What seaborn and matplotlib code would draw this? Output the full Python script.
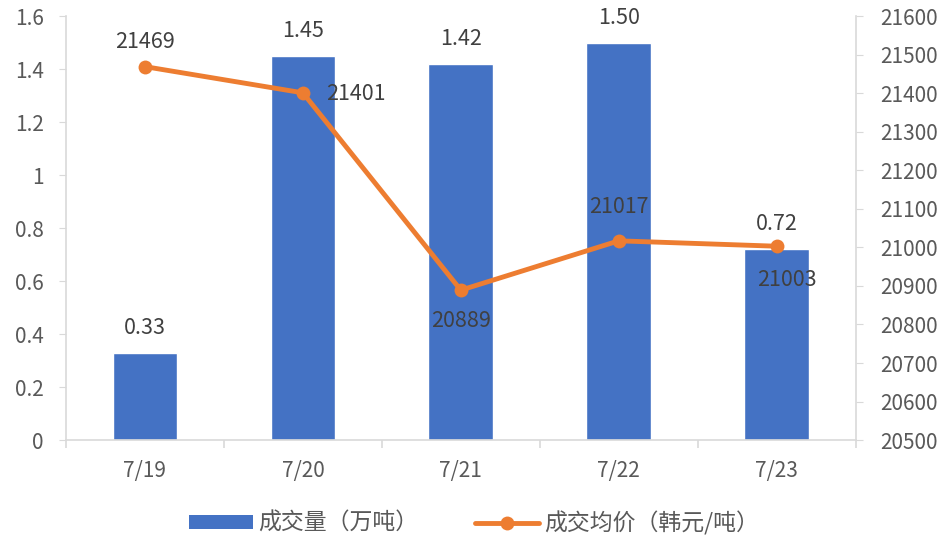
import matplotlib
matplotlib.use('Agg')
import matplotlib.pyplot as plt
import seaborn as sns
import pandas as pd
from matplotlib.patches import Patch
from matplotlib.lines import Line2D
from matplotlib.ticker import FixedLocator

# Data
dates = ['7/19', '7/20', '7/21', '7/22', '7/23']
volume = [0.33, 1.45, 1.42, 1.50, 0.72]          # 成交量（万吨）
price = [21469, 21401, 20889, 21017, 21003]      # 成交均价（韩元/吨）

BLUE = '#4472C4'
ORANGE = '#ED7D31'
GRID = '#D9D9D9'
TXT = '#595959'
LBL = '#404040'

sns.set_style('white')
plt.rcParams['font.family'] = ['Noto Sans CJK SC', 'DejaVu Sans']

df = pd.DataFrame({'date': dates, 'volume': volume, 'price': price})

fig = plt.figure(figsize=(9.48, 5.38), dpi=100)
ax = fig.add_axes([0.0696, 0.182, 0.833, 0.788])

sns.barplot(data=df, x='date', y='volume', color=BLUE, width=0.41,
            saturation=1, ax=ax)
ax.set_xlim(-0.5, 4.5)
ax.set_ylim(0, 1.6)
ax.set_yticks([0, 0.2, 0.4, 0.6, 0.8, 1.0, 1.2, 1.4, 1.6])
ax.set_yticklabels(['0', '0.2', '0.4', '0.6', '0.8', '1', '1.2', '1.4', '1.6'])
ax.set_xlabel('')
ax.set_ylabel('')

# Bar labels
for i, v in enumerate(volume):
    ax.annotate(f'{v:.2f}', (i, v), xytext=(0, 18), textcoords='offset points',
                ha='center', va='center', fontsize=15.5, color=LBL)

# Secondary axis: price line
ax2 = ax.twinx()
sns.lineplot(x=list(range(len(dates))), y=price, color=ORANGE, linewidth=3.5,
             marker='o', markersize=10, markeredgewidth=0, sort=False, ax=ax2)
ax2.set_ylim(20500, 21600)
ax2.set_yticks(range(20500, 21601, 100))
ax2.set_xlim(-0.5, 4.5)

offsets = [(0, 18), (38, -1), (0, -22), (0, 24), (7, -24)]
for i, (p, (dx, dy)) in enumerate(zip(price, offsets)):
    ax2.annotate(str(p), (i, p), xytext=(dx, dy), textcoords='offset points',
                 ha='center', va='center', fontsize=15.5, color=LBL)

# Axis styling
for a in (ax, ax2):
    for s in a.spines.values():
        s.set_color(GRID)
        s.set_linewidth(1.2)
    a.spines['top'].set_visible(False)
ax.spines['right'].set_visible(False)
ax2.spines['left'].set_visible(False)
ax2.spines['bottom'].set_visible(False)

ax.tick_params(axis='y', which='major', length=5, color=GRID, labelsize=15,
               labelcolor=TXT, pad=11, left=True)
ax2.tick_params(axis='y', which='major', length=5, color=GRID, labelsize=15,
                labelcolor=TXT, pad=13, right=True)
ax.tick_params(axis='x', which='major', length=0, labelsize=15,
               labelcolor=TXT, pad=14)
ax.xaxis.set_minor_locator(FixedLocator([-0.5, 0.5, 1.5, 2.5, 3.5, 4.5]))
ax.tick_params(axis='x', which='minor', length=6, color=GRID, width=1.2,
               bottom=True)

# Legend
handles = [Patch(facecolor=BLUE, edgecolor='none'),
           Line2D([0], [0], color=ORANGE, linewidth=3.5, marker='o',
                  markersize=10, markeredgewidth=0)]
fig.legend(handles, ['成交量（万吨）', '成交均价（韩元/吨）'], loc='center',
           bbox_to_anchor=(0.5, 0.028), ncol=2, frameon=False, fontsize=16.5,
           labelcolor=TXT, handlelength=2.8, handleheight=0.55,
           handletextpad=0.2, columnspacing=2.5)

fig.savefig('out.png', dpi=100)
